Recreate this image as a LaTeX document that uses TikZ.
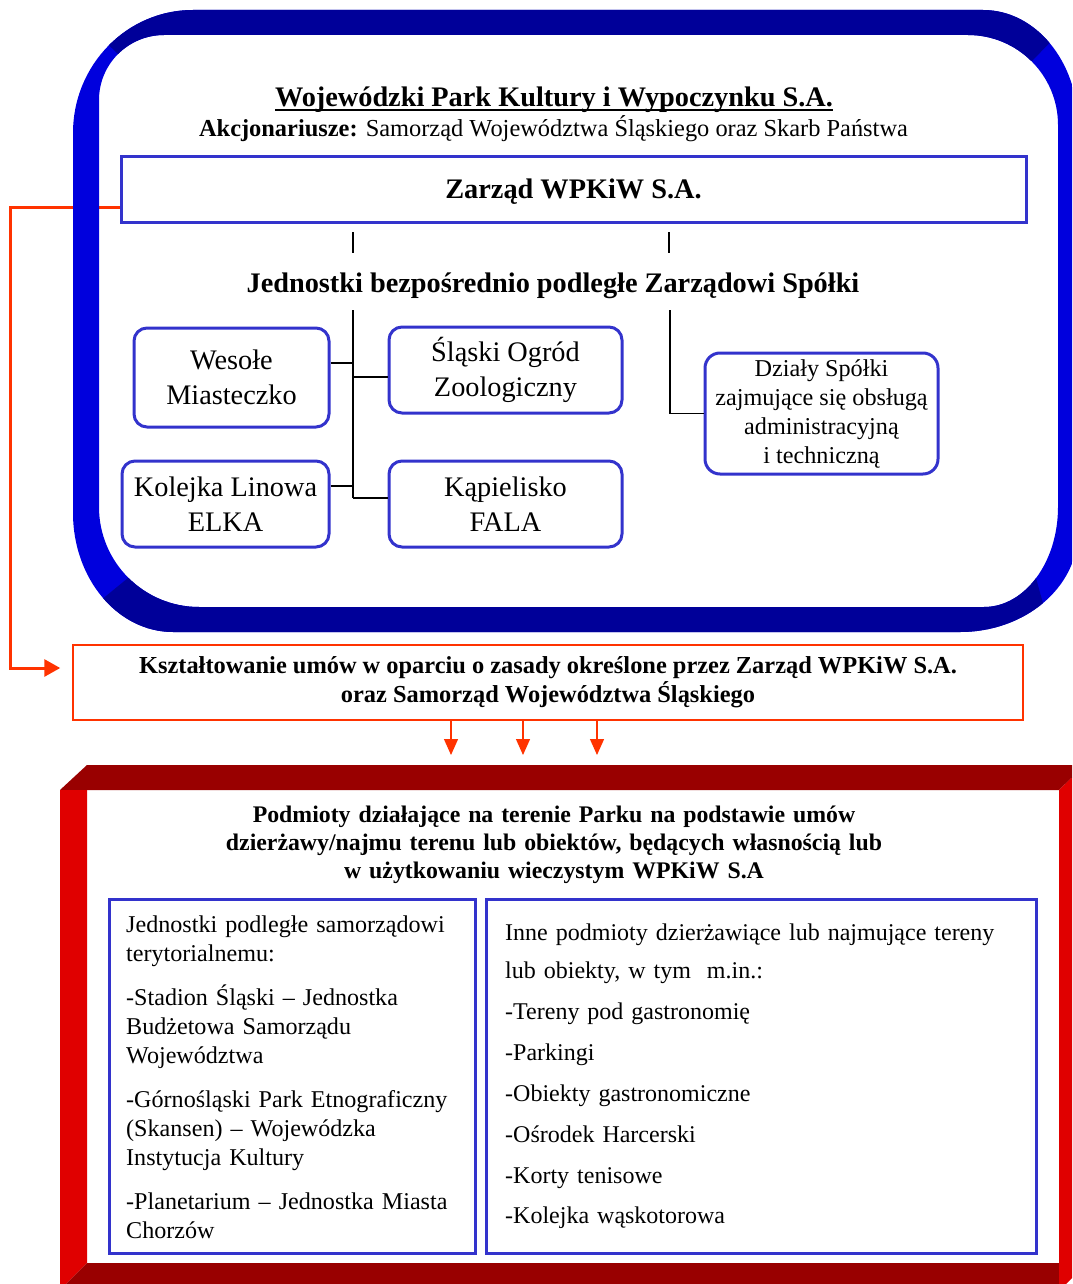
\documentclass[tikz,border=0pt]{standalone}
\usepackage{fontspec}
\setmainfont{Liberation Serif}
\usetikzlibrary{arrows.meta,calc}
\pgfdeclarelayer{back}
\pgfsetlayers{back,main}
\definecolor{bframe}{RGB}{0,0,221}
\definecolor{bdark}{RGB}{0,0,153}
\definecolor{boxblue}{RGB}{51,51,204}
\definecolor{oranred}{RGB}{255,51,0}
\definecolor{rdark}{RGB}{153,0,0}
\definecolor{rbright}{RGB}{224,0,0}
\newcommand\fsS{\fontsize{24.2}{29}\selectfont}
\newcommand\fsL{\fontsize{28.3}{35}\selectfont}
\newcommand\ulbar[1]{\setbox0\hbox{#1}\rlap{\rule[-4pt]{\wd0}{2.4pt}}\box0}
\begin{document}
\begin{tikzpicture}[x=1pt,y=-1pt,
  ubox/.style={draw=boxblue, line width=3pt, rounded corners=13pt, inner sep=0pt, align=center, font=\fsL},
  sqbox/.style={draw=boxblue, line width=3pt, inner sep=0pt},
  conn/.style={line width=1.3pt, black},
  redln/.style={oranred, line width=3pt},
  darr/.style={oranred, line width=1.3pt, -{Triangle[length=16pt,width=14pt]}},
]
\useasboundingbox (0,0) rectangle (1072,1284);
\clip (0,0) rectangle (1072,1284);

% ---- blue bevelled frame (ring) ----
\begin{scope}[even odd rule]
  \clip
    (73,133) arc[start angle=180,end angle=270,x radius=120,y radius=123]
    -- (983,10) arc[start angle=270,end angle=360,x radius=95,y radius=115]
    -- (1078,532) arc[start angle=0,end angle=90,x radius=118,y radius=100]
    -- (173,632) arc[start angle=90,end angle=180,x radius=100,y radius=119]
    -- cycle
    (99,100) arc[start angle=180,end angle=270,radius=65]
    -- (968,35) arc[start angle=270,end angle=360,radius=90]
    -- (1058,507) arc[start angle=0,end angle=90,x radius=74,y radius=100]
    -- (199,607) arc[start angle=90,end angle=180,radius=100]
    -- cycle;
  \fill[bframe] (0,0) rectangle (1100,700);
  \fill[bdark] (20,-40) -- (1130,-40) -- (1032,61) -- (118,54) -- cycle;
  \fill[bdark] (128,578) -- (1036,578) -- (1060,665) -- (40,650) -- cycle;
\end{scope}

% ---- header texts ----
\node[anchor=base, font=\fsL\bfseries] (title) at (554,107)
  {\ulbar{Wojewódzki Park Kultury i Wypoczynku S.A.}};
\node[anchor=base, font=\fontsize{24.4}{29}\selectfont] (akc) at (553.5,137)
  {\textbf{Akcjonariusze:} Samorząd Województwa Śląskiego oraz Skarb Państwa};
\node[sqbox, minimum width=905, minimum height=65, font=\fsL\bfseries, text height=19pt, text depth=0pt] (zarzad) at (573.5,189.5)
  {Zarząd WPKiW S.A.};
\node[anchor=base, font=\fsL\bfseries] (hdr) at (553,292)
  {Jednostki bezpośrednio podległe Zarządowi Spółki};

% ---- unit boxes ----
\node[ubox, minimum width=195, minimum height=99] (wm) at (231.5,377.5) {Wesołe\\Miasteczko};
\node[ubox, minimum width=233, minimum height=86] (soz) at (505.5,370) {Śląski Ogród\\Zoologiczny};
\node[ubox, minimum width=207, minimum height=86] (kl) at (225.5,504) {Kolejka Linowa\\ELKA};
\node[ubox, minimum width=233, minimum height=86] (kf) at (505.5,504) {Kąpielisko\\FALA};
\node[ubox, minimum width=233, minimum height=121, font=\fsS, rounded corners=15pt] (dz) at (821.5,413.5)
  {Działy Spółki\\zajmujące się obsługą\\administracyjną\\i techniczną};

% ---- connectors ----
\coordinate (s1a) at (353,232); \coordinate (s1b) at (353,253);
\coordinate (s2a) at (669,232); \coordinate (s2b) at (669,253);
\draw[conn] (s1a) -- (s1b);
\draw[conn] (s2a) -- (s2b);
\coordinate (t1) at (353,310); \coordinate (b1) at (353,498);
\coordinate (j1) at (353,363); \coordinate (j2) at (353,377); \coordinate (j3) at (353,486);
\draw[conn] (t1) -- (b1);
\draw[conn] (wm.east |- j1) -- (j1);
\draw[conn] (j2) -- (soz.west |- j2);
\draw[conn] (kl.east |- j3) -- (j3);
\draw[conn] (b1) -- (kf.west |- b1);
\coordinate (t2) at (670,310);
\draw[conn] (t2) |- (dz.west);

% ---- agreements box ----
\node[draw=oranred, line width=1.5pt, minimum width=950, minimum height=75, inner sep=0pt,
      align=center, font=\fontsize{24.4}{29}\selectfont\bfseries] (ksz) at (548,682.5)
  {Kształtowanie umów w oparciu o zasady określone przez Zarząd WPKiW S.A.\\oraz Samorząd Województwa Śląskiego};

\begin{pgfonlayer}{back}
\draw[redln, -{Triangle[length=16pt,width=17pt]}, shorten >=12pt]
  ([yshift=-17.5pt]zarzad.west) -- ++(-109,0) |- ([yshift=14.5pt]ksz.west);
\end{pgfonlayer}

\coordinate (a1) at (451,755); \coordinate (a2) at (523,755); \coordinate (a3) at (597,755);
\draw[darr] (ksz.south -| a1) -- (a1);
\draw[darr] (ksz.south -| a2) -- (a2);
\draw[darr] (ksz.south -| a3) -- (a3);

% ---- red bevelled frame ----
\fill[rdark] (60,790) -- (87,765) -- (1085,765) -- (1059,790) -- cycle;
\fill[rbright] (60,790) -- (87,790) -- (87,1263) -- (60,1290) -- cycle;
\fill[rdark] (60,1290) -- (87,1263) -- (1059,1263) -- (1059,1291) -- cycle;
\fill[rbright] (1059,790) -- (1085,765) -- (1085,1265) -- (1059,1291) -- cycle;

\node[anchor=base, text width=800pt, inner sep=0pt, align=center, font=\fontsize{23.8}{28.3}\selectfont\bfseries] (podm) at (554,822)
  {Podmioty działające na terenie Parku na podstawie umów\\dzierżawy/najmu terenu lub obiektów, będących własnością lub\\w użytkowaniu wieczystym WPKiW S.A};

\node[sqbox, minimum width=366, minimum height=354] (lb) at (292,1076) {};
\node[sqbox, minimum width=550, minimum height=354] (rb) at (761,1076) {};

\node[anchor=base west, inner sep=0pt, text width=345pt, align=left, font=\fontsize{24.1}{29}\selectfont] (ltxt) at (126,932)
  {Jednostki podległe samorządowi\\terytorialnemu:\\[15pt]-Stadion Śląski – Jednostka\\Budżetowa Samorządu\\Województwa\\[15pt]-Górnośląski Park Etnograficzny\\(Skansen) – Wojewódzka\\Instytucja Kultury\\[15pt]-Planetarium – Jednostka Miasta\\Chorzów};

\node[anchor=base west, inner sep=0pt, text width=525pt, align=left, font=\fontsize{24}{41}\selectfont] (rtxt) at (505,940)
  {Inne podmioty dzierżawiące lub najmujące tereny\\[-3pt]lub obiekty, w tym\ \ m.in.:\\-Tereny pod gastronomię\\-Parkingi\\-Obiekty gastronomiczne\\-Ośrodek Harcerski\\-Korty tenisowe\\[-1pt]-Kolejka wąskotorowa};
\end{tikzpicture}
\end{document}
